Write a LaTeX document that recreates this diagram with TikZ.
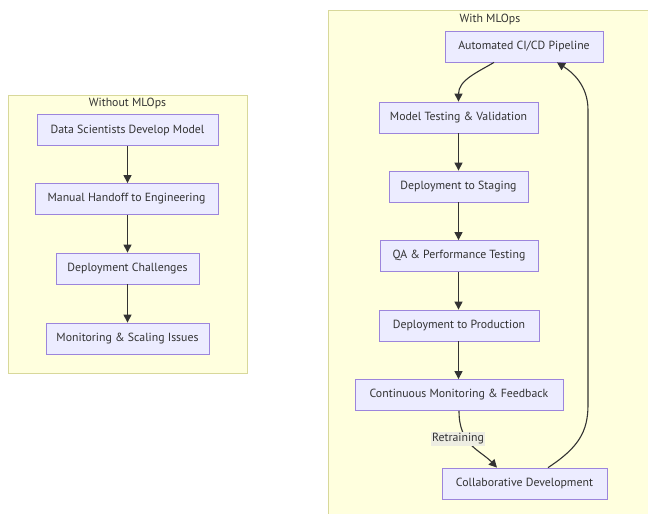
\documentclass[tikz,border=0pt]{standalone}
\usepackage{fontspec}
\setmainfont{PT Sans}
\usetikzlibrary{arrows.meta,calc}
\definecolor{clusterfill}{HTML}{FFFFDE}
\definecolor{clusterline}{HTML}{D8D89A}
\definecolor{boxfill}{HTML}{ECECFF}
\definecolor{boxline}{HTML}{9C85DC}
\definecolor{ink}{HTML}{333333}
\definecolor{labelbg}{HTML}{EDEDE2}
\tikzset{
  cluster/.style={draw=clusterline, fill=clusterfill, line width=1pt},
  stepbox/.style={draw=boxline, fill=boxfill, line width=0.8pt, minimum height=31pt,
    inner sep=0pt, text=ink, font=\fontsize{11.8pt}{13pt}\selectfont},
  title/.style={text=ink, font=\fontsize{11.8pt}{13pt}\selectfont, inner sep=0pt},
  flow/.style={draw=ink, line width=1.1pt, -{Triangle[length=8pt,width=8pt]}},
  edgelabel/.style={fill=labelbg, text=ink, inner sep=1.5pt, font=\fontsize{11.8pt}{13pt}\selectfont}
}
\begin{document}
\begin{tikzpicture}[x=1pt,y=-1pt]
\useasboundingbox (0,0) rectangle (648,514);
\fill[white] (0,0) rectangle (648,514);
\begin{scope}
\clip (0,0) rectangle (648,514);

% Without MLOps
\draw[cluster] (8,95) rectangle (247,373);
\node[title] (tleft) at (127.5,103) {Without MLOps};
\node[stepbox, minimum width=181pt] (dev)  at (127.5,130) {Data Scientists Develop Model};
\node[stepbox, minimum width=183pt] (hand) at (126.5,199) {Manual Handoff to Engineering};
\node[stepbox, minimum width=143pt] (chal) at (127.5,268.5) {Deployment Challenges};
\node[stepbox, minimum width=163pt] (mon)  at (127.5,338.5) {Monitoring \& Scaling Issues};
\draw[flow] (dev.south -| 127.5,0) -- (hand.north -| 127.5,0);
\draw[flow] (hand.south -| 127.5,0) -- (chal.north -| 127.5,0);
\draw[flow] (chal.south -| 127.5,0) -- (mon.north -| 127.5,0);

% With MLOps
\draw[cluster] (328,10) rectangle (665,530);
\node[title] (tright) at (490,19) {With MLOps};
\node[stepbox, minimum width=158pt] (auto)  at (524,46.5) {Automated CI/CD Pipeline};
\node[stepbox, minimum width=159pt] (test)  at (458.5,117.5) {Model Testing \& Validation};
\node[stepbox, minimum width=139pt] (stage) at (458.5,186.5) {Deployment to Staging};
\node[stepbox, minimum width=158pt] (qa)    at (459,256) {QA \& Performance Testing};
\node[stepbox, minimum width=160pt] (prod)  at (459,325.5) {Deployment to Production};
\node[stepbox, minimum width=208pt] (cont)  at (459,395) {Continuous Monitoring \& Feedback};
\node[stepbox, minimum width=165pt] (collab) at (524.5,483.5) {Collaborative Development};

\coordinate (autoout) at (auto.south -| 494,0);
\draw[flow] (autoout) .. controls (478,72) and (458.5,80) .. (test.north -| 458.5,0);
\draw[flow] (test.south -| 458.5,0) -- (stage.north -| 458.5,0);
\draw[flow] (stage.south -| 458.5,0) -- (qa.north -| 458.5,0);
\draw[flow] (qa.south -| 458.5,0) -- (prod.north -| 458.5,0);
\draw[flow] (prod.south -| 458.5,0) -- (cont.north -| 458.5,0);

\coordinate (contout) at (cont.south -| 459,0);
\coordinate (collabin) at (collab.north -| 497,0);
\draw[flow] (contout) .. controls (459,445) and (480,450) .. (collabin);
\node[edgelabel] (retrain) at (458,439) {Retraining};

\coordinate (collabout) at (collab.north -| 548,0);
\coordinate (autoin) at (auto.south -| 557,0);
\draw[flow] (collabout) .. controls (578,448) and (588,432) .. (588,405)
  -- (588,110) .. controls (588,85) and (572,72) .. (autoin);
\end{scope}
\end{tikzpicture}
\end{document}
